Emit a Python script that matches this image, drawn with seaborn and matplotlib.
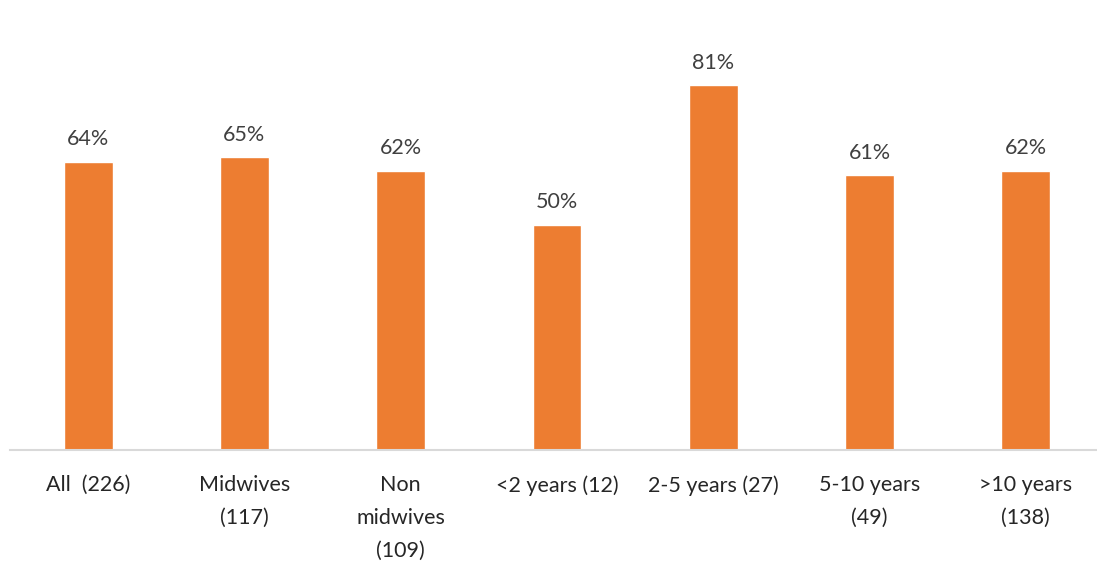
import matplotlib
matplotlib.use("Agg")
import matplotlib.pyplot as plt
import seaborn as sns
import pandas as pd

categories = ["All  (226)", "Midwives\n(117)", "Non\nmidwives\n(109)", "<2 years (12)",
              "2-5 years (27)", "5-10 years\n(49)", ">10 years\n(138)"]
values = [64, 65, 62, 50, 81, 61, 62]
value_labels = ["64%", "65%", "62%", "50%", "81%", "61%", "62%"]

sns.set_theme(style="white")
plt.rcParams["font.family"] = ["Lato", "DejaVu Sans"]

df = pd.DataFrame({"group": categories, "share": values})

fig = plt.figure(figsize=(10.97, 5.66), dpi=100)
ax = fig.add_axes([10 / 1097, 116 / 566, 1094 / 1097, 448 / 566])

sns.barplot(data=df, x="group", y="share", color="#ED7D31", saturation=1,
            width=0.313, ax=ax)

ax.set_xlim(-0.5, 6.5)
ax.set_ylim(0, 99.5)
ax.set_xlabel("")
ax.set_ylabel("")
ax.set_yticks([])
for side in ["top", "right", "left"]:
    ax.spines[side].set_visible(False)
ax.spines["bottom"].set_color("#D9D9D9")
ax.spines["bottom"].set_linewidth(1.5)

ax.tick_params(axis="x", length=0, pad=18, labelsize=15.5, labelcolor="#262626")
for lbl in ax.get_xticklabels():
    lbl.set_linespacing(1.8)
    lbl.set_verticalalignment("top")

for i, (v, t) in enumerate(zip(values, value_labels)):
    ax.annotate(t, (i, v), xytext=(0, 9), textcoords="offset points",
                ha="center", va="bottom", fontsize=15.5, color="#404040")

fig.savefig("out.png", dpi=100)
